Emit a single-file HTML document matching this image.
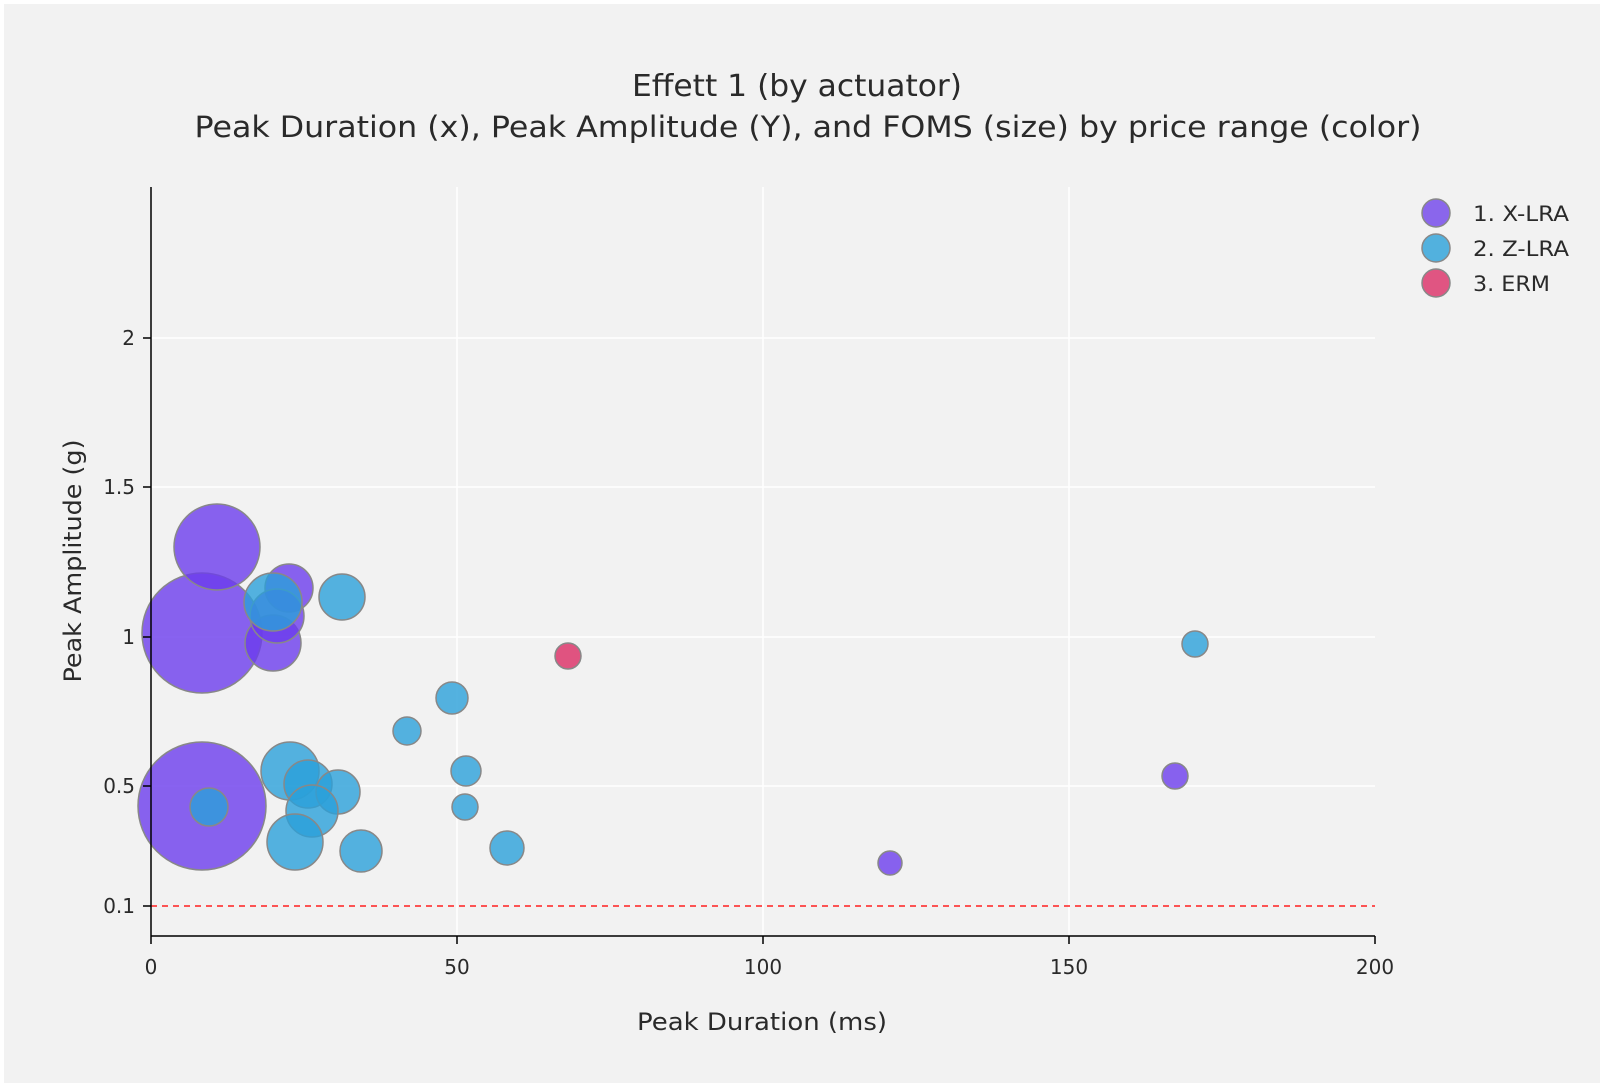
<!DOCTYPE html>
<html><head><style>
html,body{margin:0;padding:0;background:#fff;}
svg{display:block;}
text{font-family:"DejaVu Sans","Liberation Sans",sans-serif;fill:#2a2a2a;}
</style></head><body>
<svg width="1600" height="1083" viewBox="0 0 1600 1083" xmlns="http://www.w3.org/2000/svg">
<rect x="4" y="4" width="1596" height="1079" fill="#f2f2f2"/>
<text x="797" y="96" font-size="30" text-anchor="middle" textLength="330" lengthAdjust="spacingAndGlyphs">Effett 1 (by actuator)</text>
<text x="808" y="137" font-size="29" text-anchor="middle" textLength="1227" lengthAdjust="spacingAndGlyphs">Peak Duration (x), Peak Amplitude (Y), and FOMS (size) by price range (color)</text>
<g stroke="#fff" stroke-width="1.5">
<line x1="457" y1="187" x2="457" y2="936"/>
<line x1="763" y1="187" x2="763" y2="936"/>
<line x1="1069" y1="187" x2="1069" y2="936"/>
<line x1="151" y1="338" x2="1375" y2="338"/>
<line x1="151" y1="487" x2="1375" y2="487"/>
<line x1="151" y1="637" x2="1375" y2="637"/>
<line x1="151" y1="786" x2="1375" y2="786"/>
</g>
<line x1="151" y1="906" x2="1375" y2="906" stroke="#ff2020" stroke-width="1.5" stroke-dasharray="6,5"/>
<g stroke="#888" stroke-width="1.5">
<circle cx="202" cy="806" r="64" fill="#6b3cec" fill-opacity="0.8"/>
<circle cx="202" cy="633" r="60" fill="#6b3cec" fill-opacity="0.8"/>
<circle cx="217" cy="547" r="43" fill="#6b3cec" fill-opacity="0.8"/>
<circle cx="289" cy="588" r="24" fill="#6b3cec" fill-opacity="0.8"/>
<circle cx="273" cy="643" r="28" fill="#6b3cec" fill-opacity="0.8"/>
<circle cx="277" cy="616" r="27" fill="#6b3cec" fill-opacity="0.8"/>
<circle cx="890" cy="863" r="12" fill="#6b3cec" fill-opacity="0.8"/>
<circle cx="1175" cy="776" r="13" fill="#6b3cec" fill-opacity="0.8"/>
<circle cx="273" cy="602" r="29" fill="#2ba0da" fill-opacity="0.8"/>
<circle cx="209" cy="807" r="19" fill="#2ba0da" fill-opacity="0.8"/>
<circle cx="342" cy="597" r="23" fill="#2ba0da" fill-opacity="0.8"/>
<circle cx="290" cy="771" r="29" fill="#2ba0da" fill-opacity="0.8"/>
<circle cx="308" cy="784" r="24" fill="#2ba0da" fill-opacity="0.8"/>
<circle cx="338" cy="792" r="22" fill="#2ba0da" fill-opacity="0.8"/>
<circle cx="312" cy="811" r="26" fill="#2ba0da" fill-opacity="0.8"/>
<circle cx="295" cy="842" r="28" fill="#2ba0da" fill-opacity="0.8"/>
<circle cx="361" cy="851" r="21" fill="#2ba0da" fill-opacity="0.8"/>
<circle cx="452" cy="698" r="16" fill="#2ba0da" fill-opacity="0.8"/>
<circle cx="407" cy="731" r="14" fill="#2ba0da" fill-opacity="0.8"/>
<circle cx="466" cy="771" r="15" fill="#2ba0da" fill-opacity="0.8"/>
<circle cx="465" cy="807" r="13" fill="#2ba0da" fill-opacity="0.8"/>
<circle cx="507" cy="848" r="17" fill="#2ba0da" fill-opacity="0.8"/>
<circle cx="1195" cy="644" r="13" fill="#2ba0da" fill-opacity="0.8"/>
<circle cx="568" cy="656" r="13" fill="#db2a63" fill-opacity="0.8"/>
</g>
<g stroke="#000" stroke-width="1.5">
<line x1="151" y1="187" x2="151" y2="936"/>
<line x1="151" y1="936" x2="1375" y2="936"/>
<line x1="143" y1="338" x2="151" y2="338"/>
<line x1="143" y1="487" x2="151" y2="487"/>
<line x1="143" y1="637" x2="151" y2="637"/>
<line x1="143" y1="786" x2="151" y2="786"/>
<line x1="143" y1="906" x2="151" y2="906"/>
<line x1="151" y1="936" x2="151" y2="944"/>
<line x1="457" y1="936" x2="457" y2="944"/>
<line x1="763" y1="936" x2="763" y2="944"/>
<line x1="1069" y1="936" x2="1069" y2="944"/>
<line x1="1375" y1="936" x2="1375" y2="944"/>
</g>
<g font-size="20" text-anchor="end">
<text x="135" y="345">2</text>
<text x="135" y="494">1.5</text>
<text x="135" y="644">1</text>
<text x="135" y="793">0.5</text>
<text x="135" y="913">0.1</text>
</g>
<g font-size="20" text-anchor="middle">
<text x="151" y="974">0</text>
<text x="457" y="974">50</text>
<text x="763" y="974">100</text>
<text x="1069" y="974">150</text>
<text x="1375" y="974">200</text>
</g>
<text x="762" y="1030" font-size="24" text-anchor="middle" textLength="250" lengthAdjust="spacingAndGlyphs">Peak Duration (ms)</text>
<text transform="translate(81,561) rotate(-90)" font-size="24" text-anchor="middle" textLength="243" lengthAdjust="spacingAndGlyphs">Peak Amplitude (g)</text>
<g stroke="#888" stroke-width="1.5">
<circle cx="1436" cy="213" r="14" fill="#8a66ec"/>
<circle cx="1436" cy="248" r="14" fill="#52b1de"/>
<circle cx="1436" cy="283" r="14" fill="#e05582"/>
</g>
<g font-size="21">
<text x="1473" y="221" textLength="96" lengthAdjust="spacingAndGlyphs">1. X-LRA</text>
<text x="1473" y="256" textLength="96" lengthAdjust="spacingAndGlyphs">2. Z-LRA</text>
<text x="1473" y="291" textLength="77" lengthAdjust="spacingAndGlyphs">3. ERM</text>
</g>
</svg>
</body></html>
